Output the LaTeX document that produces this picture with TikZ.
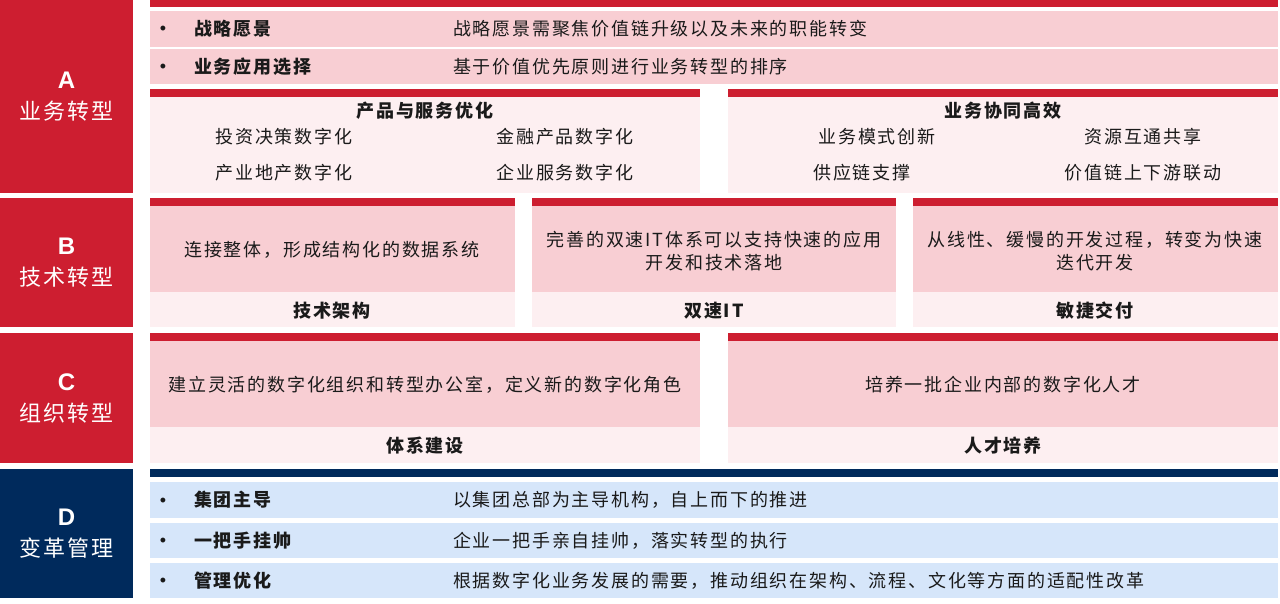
\documentclass[tikz,border=0pt]{standalone}
\usepackage{fontspec}
\setmainfont{Noto Sans CJK SC}[LetterSpace=10]
\newfontfamily\latinfont{Liberation Sans}
\definecolor{bizred}{HTML}{CD1E30}
\definecolor{rowpink}{HTML}{F8CED3}
\definecolor{palepink}{HTML}{FDEFF1}
\definecolor{chgnavy}{HTML}{002A5C}
\definecolor{rowblue}{HTML}{D6E6FA}
\definecolor{inkdark}{HTML}{1A1A1A}

\begin{document}
\begin{tikzpicture}[
    x=1pt, y=-1pt, % pixel grid, y downwards
    body/.style={text=inkdark, inner sep=0pt, font=\fontsize{18}{23}\selectfont},
    bodybold/.style={body, font=\fontsize{18}{23}\selectfont\bfseries},
    sidelabel/.style={text=white, inner sep=0pt, font=\fontsize{22}{26}\selectfont},
    sidetag/.style={text=white, inner sep=0pt, font=\latinfont\bfseries\fontsize{24}{28}\selectfont},
    bullet/.style={text=inkdark, inner sep=0pt, anchor=base, font=\latinfont\fontsize{18}{20}\selectfont},
  ]
  \useasboundingbox (0,0) rectangle (1280,604);

  % Side bar A--D
  \foreach \yy/\hh/\col/\tg/\lbl in {0/193/bizred/A/业务转型, 198/129/bizred/B/技术转型, 333/130/bizred/C/组织转型, 469/129/chgnavy/D/变革管理}{
    \fill[\col] (0,\yy) rectangle ++(133,\hh);
    \node[sidetag] (tag\tg) at (66.5,{\yy+\hh/2-16}) {\tg};
    \node[sidelabel] (side\tg) at (66.5,{\yy+\hh/2+15}) {\lbl};
  }

  % A: bullet rows
  \fill[bizred] (150,0) rectangle (1278,7);
  \foreach \yy/\hh/\key/\desc [count=\i] in {11/36/战略愿景/战略愿景需聚焦价值链升级以及未来的职能转变, 49/35/业务应用选择/基于价值优先原则进行业务转型的排序}{
    \fill[rowpink] (150,\yy) rectangle ++(1128,\hh);
    \node[bullet] (dotA\i) at (163,{\yy+\hh/2+6}) {•};
    \node[bodybold, anchor=west] (keyA\i) at (194,{\yy+\hh/2}) {\key};
    \node[body, anchor=west] (descA\i) at (453,{\yy+\hh/2}) {\desc};
  }

  % A: two panels
  \foreach \xa/\xb in {150/700, 728/1278}{
    \fill[bizred] (\xa,89) rectangle (\xb,97);
    \fill[palepink] (\xa,97) rectangle (\xb,193);
  }
  \node[bodybold] (prodopt) at (425,111) {产品与服务优化};
  \node[body] (invest) at (284,137) {投资决策数字化};
  \node[body] (finprod) at (565,137) {金融产品数字化};
  \node[body] (estate) at (284,173) {产业地产数字化};
  \node[body] (entsvc) at (565,173) {企业服务数字化};
  \node[bodybold] (synergy) at (1003,111) {业务协同高效};
  \node[body] (bizmode) at (877,137) {业务模式创新};
  \node[body] (resshare) at (1143,137) {资源互通共享};
  \node[body] (supply) at (862,173) {供应链支撑};
  \node[body] (valchain) at (1143,173) {价值链上下游联动};

  % B: three panels
  \foreach \xa/\xb in {150/515, 532/896, 913/1278}{
    \fill[bizred] (\xa,198) rectangle (\xb,206);
    \fill[rowpink] (\xa,206) rectangle (\xb,292);
    \fill[palepink] (\xa,292) rectangle (\xb,327);
  }
  \node[body] (connect) at (332,250) {连接整体，形成结构化的数据系统};
  \node[body, align=center] (dualtxt) at (714,251.5) {完善的双速IT体系可以支持快速的应用\\开发和技术落地};
  \node[body, align=center] (agiletxt) at (1095,251.5) {从线性、缓慢的开发过程，转变为快速\\迭代开发};
  \node[bodybold] (archi) at (332,311) {技术架构};
  \node[bodybold] (dualit) at (714,311) {双速IT};
  \node[bodybold] (agile) at (1095,311) {敏捷交付};

  % C: two panels
  \foreach \xa/\xb in {150/700, 728/1278}{
    \fill[bizred] (\xa,333) rectangle (\xb,341);
    \fill[rowpink] (\xa,341) rectangle (\xb,427);
    \fill[palepink] (\xa,427) rectangle (\xb,463);
  }
  \node[body] (orgtxt) at (425,385) {建立灵活的数字化组织和转型办公室，定义新的数字化角色};
  \node[body] (talenttxt) at (1003,385) {培养一批企业内部的数字化人才};
  \node[bodybold] (system) at (425,446) {体系建设};
  \node[bodybold] (talent) at (1003,446) {人才培养};

  % D: bullet rows
  \fill[chgnavy] (150,469) rectangle (1278,477);
  \foreach \yy/\hh/\key/\desc [count=\i] in {482/36/集团主导/以集团总部为主导机构，自上而下的推进, 523/35/一把手挂帅/企业一把手亲自挂帅，落实转型的执行, 563/35/管理优化/根据数字化业务发展的需要，推动组织在架构、流程、文化等方面的适配性改革}{
    \fill[rowblue] (150,\yy) rectangle ++(1128,\hh);
    \node[bullet] (dotD\i) at (163,{\yy+\hh/2+6}) {•};
    \node[bodybold, anchor=west] (keyD\i) at (194,{\yy+\hh/2}) {\key};
    \node[body, anchor=west] (descD\i) at (453,{\yy+\hh/2}) {\desc};
  }
\end{tikzpicture}
\end{document}
